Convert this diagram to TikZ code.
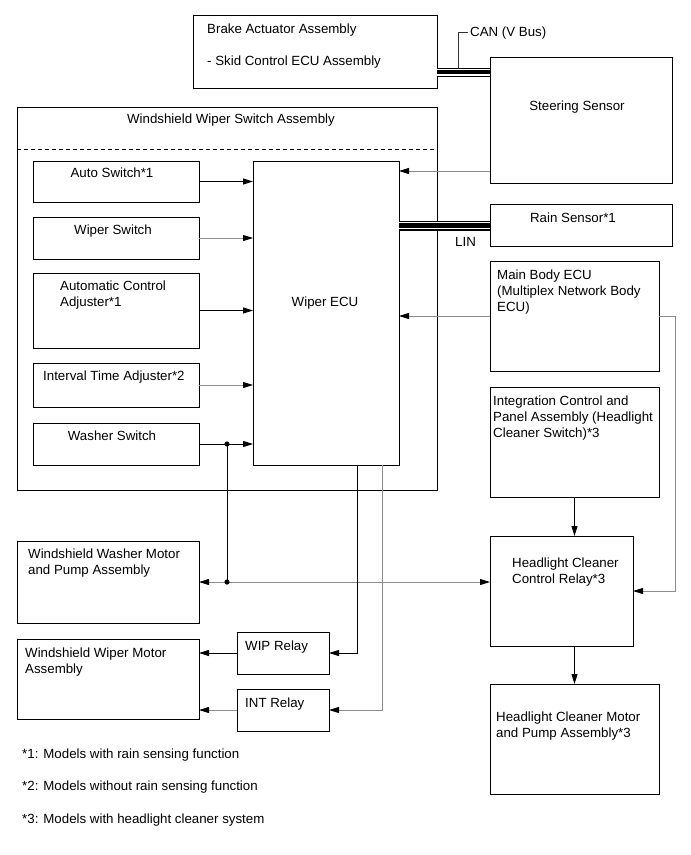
\documentclass[tikz,border=0pt]{standalone}
\usepackage{fontspec}
\setmainfont{Liberation Sans}
\usetikzlibrary{arrows.meta,calc}
\newcommand\mybox[5]{\node[boxst, minimum width={(#4)-(#2)}, minimum height={(#5)-(#3)}] (#1) at (#2,#3) {};}
\begin{document}
\begin{tikzpicture}[x=1pt,y=-1pt,
  boxst/.style={draw=black, line width=1pt, inner sep=0pt, outer sep=0pt, anchor=north west},
  txt/.style={inner sep=0pt, align=left, font=\fontsize{13.3}{16}\selectfont},
  blk/.style={line width=0.9pt, draw=black},
  gry/.style={line width=0.9pt, draw=black!45},
  arr/.style={-{Triangle[length=10pt,width=6pt,color=black]}},
  bus/.style={line width=9.5pt, draw=black},
  busgap/.style={draw=white},
]
\fill[white] (0,0) rectangle (691,855);
\useasboundingbox (0,0) rectangle (691,855);

% boxes
\mybox{brake}{193}{15}{437}{88}
\mybox{steer}{490}{57}{672}{183}
\mybox{wss}{17}{107}{437}{490}
\mybox{auto}{33}{161}{199}{202}
\mybox{wsw}{33}{217}{199}{259}
\mybox{adj}{33}{273}{199}{348}
\mybox{intv}{33}{363}{199}{407}
\mybox{wash}{33}{423}{199}{465}
\mybox{ecu}{253}{161}{399}{465}
\mybox{rain}{490}{204}{672}{246}
\mybox{mbody}{490}{261}{659}{371}
\mybox{integ}{490}{387}{659}{497}
\mybox{hrelay}{490}{536}{633}{646}
\mybox{hmotor}{490}{684}{659}{794}
\mybox{wmotor}{17}{541}{199}{623}
\mybox{wipmotor}{17}{639}{199}{719}
\mybox{wip}{237}{632}{329}{674}
\mybox{int}{237}{689}{329}{731}

% dashed separator
\draw[line width=0.8pt, dash pattern=on 4pt off 3pt] (wss.west |- 0,149) -- (wss.east |- 0,149);

% texts (multi-line nodes: base = last line)
\node[txt, anchor=base west] (brakeT1) at (207,33) {Brake Actuator Assembly};
\node[txt, anchor=base west] (brakeT2) at (207,65) {- Skid Control ECU Assembly};
\node[txt, anchor=base west] (canT) at (470,36.5) {CAN (V Bus)};
\node[txt, anchor=base] (steerT) at (577,110) {Steering Sensor};
\node[txt, anchor=base] (wssT) at (231,123) {Windshield Wiper Switch Assembly};
\node[txt, anchor=base] (autoT) at (112,177) {Auto Switch*1};
\node[txt, anchor=base] (wswT) at (113,234) {Wiper Switch};
\node[txt, anchor=base west] (adjT) at (60,306) {Automatic Control\\Adjuster*1};
\node[txt, anchor=base west] (intvT) at (43,380) {Interval Time Adjuster*2};
\node[txt, anchor=base] (washT) at (112,440) {Washer Switch};
\node[txt, anchor=base] (ecuT) at (325,306) {Wiper ECU};
\node[txt, anchor=base west] (linT) at (455,246) {LIN};
\node[txt, anchor=base] (rainT) at (573,222) {Rain Sensor*1};
\node[txt, anchor=base west] (mbodyT) at (497,311) {Main Body ECU\\(Multiplex Network Body\\ECU)};
\node[txt, anchor=base west] (integT) at (493,437) {Integration Control and\\Panel Assembly (Headlight\\Cleaner Switch)*3};
\node[txt, anchor=base west] (hrelayT) at (512,583) {Headlight Cleaner\\Control Relay*3};
\node[txt, anchor=base west] (hmotorT) at (496,737) {Headlight Cleaner Motor\\and Pump Assembly*3};
\node[txt, anchor=base west] (wmotorT) at (28,574) {Windshield Washer Motor\\and Pump Assembly};
\node[txt, anchor=base west] (wipmotorT) at (25,673) {Windshield Wiper Motor\\Assembly};
\node[txt, anchor=base west] (wipT) at (245,650) {WIP Relay};
\node[txt, anchor=base west] (intT) at (245,707) {INT Relay};
\node[txt, anchor=base west] (fn1) at (22,758) {*1: Models with rain sensing function};
\node[txt, anchor=base west] (fn2) at (22,790) {*2: Models without rain sensing function};
\node[txt, anchor=base west] (fn3) at (22,823) {*3: Models with headlight cleaner system};

% switch inputs to ECU
\draw[blk,arr] (auto.east) -- (auto.east -| ecu.west);
\draw[gry,arr] (wsw.east) -- (wsw.east -| ecu.west);
\draw[blk,arr] (adj.east) -- (adj.east -| ecu.west);
\draw[gry,arr] (intv.east) -- (intv.east -| ecu.west);
\draw[blk,arr] (wash.east) -- (wash.east -| ecu.west);

% washer branch
\coordinate (j1) at (227,444);
\coordinate (j2) at (227,582);
\draw[blk] (j1) -- (j2);
\draw[gry,arr] (j2) -- (wmotor.east);
\draw[gry,arr] (j2) -- (hrelay.west |- j2);
\fill (j1) circle (2.6pt);
\fill (j2) circle (2.6pt);

% inputs to ECU from right
\draw[gry,arr] (steer.west |- 0,171) -- (ecu.east |- 0,171);
\draw[gry,arr] (mbody.west) -- (ecu.east |- mbody.west);

% main body to headlight relay
\coordinate (r1) at (675,591);
\draw[gry,arr] (mbody.east) -| (r1) -- (hrelay.east);
\draw[blk,arr] (integ.south) -- (integ.south |- hrelay.north);
\draw[blk,arr] (hrelay.south -| integ.south) -- (hmotor.north -| integ.south);

% ECU to relays
\draw[blk,arr] (ecu.south -| 357,0) |- (wip.east);
\draw[gry,arr] (ecu.south -| 382,0) |- (int.east);
\draw[blk,arr] (wip.west) -- (wip.west -| wipmotor.east);
\draw[gry,arr] (int.west) -- (int.west -| wipmotor.east);

% CAN bus
\draw[bus] (brake.east |- 0,72.3) -- (steer.west |- 0,72.3);
\draw[busgap, line width=0.9pt] (brake.east |- 0,69.2) -- (steer.west |- 0,69.2);
\draw[busgap, line width=1.3pt] (brake.east |- 0,75) -- (steer.west |- 0,75);
\coordinate (canc) at (468,32);
\draw[line width=0.8pt, draw=black!80] (458,68) |- (canc);

% LIN bus
\draw[bus] (ecu.east |- 0,225.9) -- (rain.west |- 0,225.9);
\draw[busgap, line width=0.9pt] (ecu.east |- 0,222.8) -- (rain.west |- 0,222.8);
\draw[busgap, line width=1.3pt] (ecu.east |- 0,228.5) -- (rain.west |- 0,228.5);
\end{tikzpicture}
\end{document}
